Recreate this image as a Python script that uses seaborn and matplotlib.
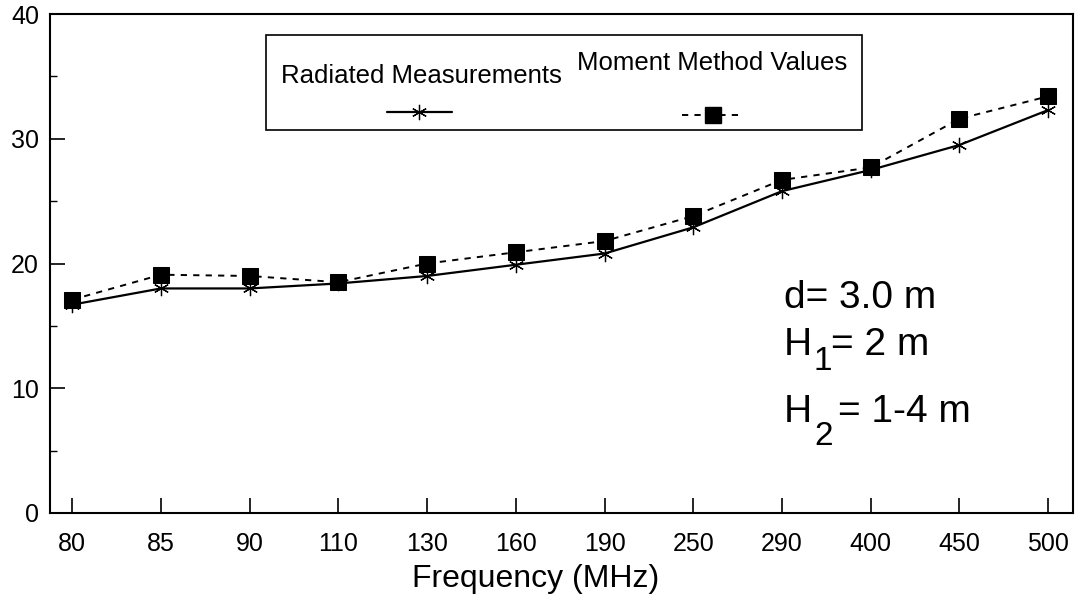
import numpy as np
import pandas as pd
import seaborn as sns
import matplotlib
matplotlib.use('Agg')
import matplotlib.pyplot as plt
from matplotlib.lines import Line2D
from matplotlib.patches import Rectangle
from matplotlib.ticker import MultipleLocator

# data
freq = ['80', '85', '90', '110', '130', '160', '190', '250', '290', '400', '450', '500']
radiated = [16.7, 18.0, 18.0, 18.4, 19.0, 19.9, 20.8, 22.9, 25.8, 27.5, 29.5, 32.3]
moment = [17.1, 19.1, 19.0, 18.5, 20.0, 20.9, 21.8, 23.8, 26.7, 27.7, 31.6, 33.4]

yticks = [0, 10, 20, 30, 40]
xlabel = 'Frequency (MHz)'
labels = ['Radiated Measurements', 'Moment Method Values']

W, H = 1077, 603


def fx(px):
    return px / W


def fy(py):
    return 1 - py / H


sns.set_style('ticks')
plt.rcParams['font.family'] = ['Liberation Sans', 'DejaVu Sans']
plt.rcParams['text.color'] = 'black'
plt.rcParams['axes.labelcolor'] = 'black'
plt.rcParams['xtick.color'] = 'black'
plt.rcParams['ytick.color'] = 'black'

fi = plt.figure(figsize=(W / 100, H / 100), dpi=100)
ax = fi.add_axes([fx(50), fy(513), fx(1073) - fx(50), fy(14) - fy(513)])

star = (6, 2, 0)
sq_dash = (0, (3.2, 3.2))

sns.lineplot(  x=freq
             , y=radiated
             , sort=False
             , color='black'
             , linewidth=1.6
             , marker=star
             , markersize=11
             , markeredgewidth=0.9
             , markeredgecolor='black'
             , ax=ax
            )

sns.lineplot(  x=freq
             , y=moment
             , sort=False
             , color='black'
             , linewidth=1.4
             , linestyle=sq_dash
             , marker='s'
             , markersize=12
             , markeredgecolor='black'
             , markerfacecolor='black'
             , ax=ax
            )

ax.set_xlim(-0.25, len(freq) - 1 + 0.28)
ax.set_ylim(0, 40)
ax.set_yticks(yticks)
ax.yaxis.set_minor_locator(MultipleLocator(5))

ax.tick_params(axis='both', which='major', direction='in', length=11, width=1.2,
               labelsize=18, top=False, right=False)
ax.tick_params(axis='y', which='minor', direction='in', length=5, width=1.0,
               right=False)
ax.tick_params(axis='y', which='major', pad=8)
ax.tick_params(axis='x', which='major', pad=14)

for s in ax.spines.values():
    s.set_visible(True)
    s.set_linewidth(1.5)
    s.set_color('black')

ax.set_xlabel(xlabel, fontsize=23)
ax.xaxis.set_label_coords(fx(536 - 50) / (fx(1073) - fx(50)), -0.102)
ax.set_ylabel('')

# legend box drawn by hand: labels sit above their samples
fi.add_artist(Rectangle((fx(266), fy(130)), fx(862) - fx(266), fy(35) - fy(130),
                        transform=fi.transFigure, fill=False, lw=1.2, ec='black'))
fi.text(fx(281), fy(76), labels[0], fontsize=18.5, ha='left', va='center')
fi.text(fx(577), fy(63), labels[1], fontsize=18.5, ha='left', va='center')

fi.add_artist(Line2D([fx(387), fx(419), fx(452)], [fy(112)] * 3,
                     transform=fi.transFigure, color='black', lw=1.6,
                     marker=star, markersize=11, markeredgewidth=0.9,
                     markevery=[1]))
fi.add_artist(Line2D([fx(682), fx(713), fx(744)], [fy(115)] * 3,
                     transform=fi.transFigure, color='black', lw=1.4,
                     linestyle=sq_dash, marker='s', markersize=12,
                     markerfacecolor='black', markevery=[1]))

# parameters text
fi.text(fx(784), fy(308), 'd= 3.0 m', fontsize=28, va='baseline')
fi.text(fx(784), fy(355), 'H', fontsize=28, va='baseline')
fi.text(fx(814), fy(370), '1', fontsize=24, va='baseline')
fi.text(fx(831), fy(355), '= 2 m', fontsize=28, va='baseline')
fi.text(fx(784), fy(422), 'H', fontsize=28, va='baseline')
fi.text(fx(814), fy(445), '2', fontsize=24, va='baseline')
fi.text(fx(838), fy(422), '= 1-4 m', fontsize=28, va='baseline')

fi.savefig('out.png', dpi=100)
